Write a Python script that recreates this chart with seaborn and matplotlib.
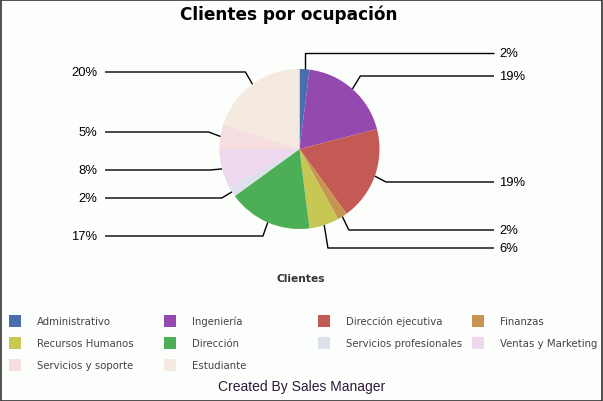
import numpy as np
import matplotlib
matplotlib.use("Agg")
import matplotlib.pyplot as plt
from matplotlib.patches import Rectangle
import seaborn as sns

# ---- data ----
categories = ["Administrativo", "Ingeniería", "Dirección ejecutiva", "Finanzas",
              "Recursos Humanos", "Dirección", "Servicios profesionales",
              "Ventas y Marketing", "Servicios y soporte", "Estudiante"]
values = [2, 19, 19, 2, 6, 17, 2, 8, 5, 20]
colors = ["#4A6DAE", "#9349AE", "#C45A54", "#C79552", "#C7C853", "#4DAF55",
          "#DCE1EB", "#EDD8EE", "#F5DDE0", "#F4EADF"]
title = "Clientes por ocupación"
xlabel = "Clientes"
footer = "Created By Sales Manager"

# label vertical positions (pixels from top) - layout only
label_y_px = [54, 77, 183, 231, 249, 237, 199, 171, 133, 73]

sns.set_style("white")
W, H = 603, 402
fig = plt.figure(figsize=(W / 100, H / 100), dpi=100)
bg = "#FCFEFC"
fig.patch.set_facecolor(bg)
ax = fig.add_axes([0, 0, 1, 1])
ax.set_facecolor(bg)

cx, cy, R = 299.5, H - 150, 80
wedges, _ = ax.pie(values, colors=colors, startangle=90, counterclock=False,
                   center=(cx, cy), radius=R, frame=True,
                   wedgeprops=dict(linewidth=0, antialiased=True))
ax.set_xlim(0, W)
ax.set_ylim(0, H)
ax.set_aspect("equal")
ax.axis("off")

total = float(sum(values))
cum = 0.0
for i, v in enumerate(values):
    mid = (cum + v / 2) / total
    cum += v
    ang = np.deg2rad(90 - 360 * mid)
    dx, dy = np.cos(ang), np.sin(ang)
    ax_, ay_ = cx + R * dx, cy + R * dy
    ly = H - label_y_px[i]
    ex = ax_ + dx * 12
    if abs(dx) < 0.1:
        ex = ax_
    right = dx >= 0
    endx = 494 if right else 105
    ax.plot([ax_, ex, endx], [ay_, ly, ly], color="black", lw=1.0,
            solid_capstyle="butt")
    pct = f"{round(v / total * 100):d}%"
    if right:
        ax.text(499, ly, pct, ha="left", va="center", fontsize=9.4,
                family="Liberation Sans", color="black")
    else:
        ax.text(97, ly, pct, ha="right", va="center", fontsize=9.4,
                family="Liberation Sans", color="black")

fig.text(289 / W, 1 - 20 / H, title, ha="center", va="baseline",
         fontsize=12.2, fontweight="bold", family="DejaVu Sans", color="black")
fig.text(301 / W, 1 - 279 / H, xlabel, ha="center", va="center",
         fontsize=7.7, fontweight="bold", family="DejaVu Sans", color="#333333")

# legend
col_x = [9, 164, 318, 472]
row_y = [322, 344, 366]
for i, (c, col) in enumerate(zip(categories, colors)):
    r, k = divmod(i, 4)
    x0 = col_x[k]
    y0 = row_y[r]
    fig.patches.append(Rectangle((x0 / W, 1 - (y0 + 6) / H), 12 / W, 12 / H,
                                 transform=fig.transFigure, facecolor=col,
                                 edgecolor="none"))
    fig.text((x0 + 28) / W, 1 - (y0 + 3) / H, c, ha="left", va="baseline",
             fontsize=7.3, family="DejaVu Sans", color="#444444")

fig.text(302 / W, 1 - 387 / H, footer, ha="center", va="center",
         fontsize=10, family="Liberation Sans", color="#2E1A3A")

fig.patches.append(Rectangle((0.5 / W, 0.5 / H), (W - 1.5) / W, (H - 1.5) / H,
                             transform=fig.transFigure, facecolor="none",
                             edgecolor="#333333", lw=1.2))

fig.savefig("out.png", dpi=100, facecolor=bg)
